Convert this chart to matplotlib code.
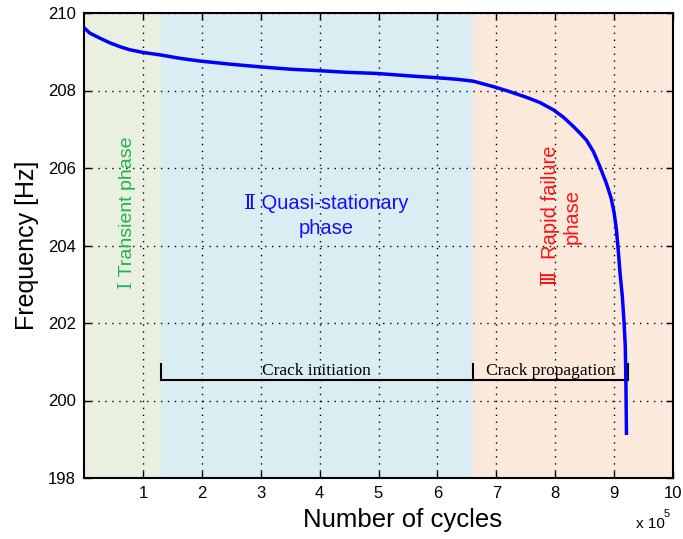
import matplotlib
matplotlib.use("Agg")
import matplotlib.pyplot as plt

# Data (cycles in units of 1e5)
cycles = [0.0, 0.10, 0.27, 0.44, 0.61, 0.78, 1.01, 1.29, 1.63, 1.97, 2.48,
          2.99, 3.50, 4.01, 4.46, 4.97, 5.59, 5.99, 6.33, 6.61, 6.95, 7.23,
          7.52, 7.74, 7.97, 8.14, 8.31, 8.42, 8.53, 8.65, 8.76, 8.87, 8.95,
          9.00, 9.04, 9.07, 9.10, 9.14, 9.17, 9.19, 9.20, 9.21]
freq = [209.62, 209.48, 209.35, 209.23, 209.13, 209.05, 208.98, 208.92,
        208.83, 208.76, 208.68, 208.61, 208.55, 208.51, 208.47, 208.44,
        208.37, 208.33, 208.29, 208.24, 208.10, 207.97, 207.82, 207.69,
        207.50, 207.31, 207.07, 206.90, 206.72, 206.42, 206.03, 205.60,
        205.22, 204.85, 204.40, 203.88, 203.30, 202.68, 201.99, 201.39,
        200.53, 199.11]

phase_bounds = [0.0, 1.3, 6.6, 10.0]
phase_colors = ["#E9F0DF", "#DAEDF2", "#FBE9DC"]
bracket_x = [1.3, 6.6, 9.24]
bracket_y = 200.53
bracket_tick = 0.41
xticks = [1, 2, 3, 4, 5, 6, 7, 8, 9, 10]
yticks = [198, 200, 202, 204, 206, 208, 210]

plt.rcParams['font.family'] = ['Liberation Sans', 'DejaVu Sans']

fig = plt.figure(figsize=(6.83, 5.39), dpi=100)
ax = fig.add_axes([84/683, 1-478/539, (673-84)/683, (478-13)/539])

for i in range(3):
    ax.axvspan(phase_bounds[i], phase_bounds[i+1], color=phase_colors[i], lw=0, zorder=0)

ax.set_xlim(0, 10)
ax.set_ylim(198, 210)
ax.set_xticks(xticks)
ax.set_yticks(yticks)
ax.tick_params(direction='in', top=True, right=True, length=5, width=1,
               labelsize=12, pad=6)
ax.grid(True, color='black', linestyle=(0, (1, 4)), linewidth=1, zorder=1)
for s in ax.spines.values():
    s.set_linewidth(1.5)

ax.plot(cycles, freq, color='#0000FF', lw=2.5, zorder=5,
        solid_joinstyle='round', solid_capstyle='butt')

# bracket
ax.plot([bracket_x[0], bracket_x[2]], [bracket_y, bracket_y], color='black', lw=1.5, zorder=4)
for bx in bracket_x:
    ax.plot([bx, bx], [bracket_y, bracket_y + bracket_tick], color='black', lw=1.5, zorder=4)
ax.text((bracket_x[0] + bracket_x[1]) / 2, 200.75, "Crack initiation",
        family='Liberation Serif', fontsize=12.5, ha='center', va='center', zorder=6)
ax.text((bracket_x[1] + bracket_x[2]) / 2, 200.75, "Crack propagation",
        family='Liberation Serif', fontsize=12.5, ha='center', va='center', zorder=6)

# phase labels
ax.text(0.73, 204.84, "Ⅰ Transient phase", rotation=90, color='#22B14C',
        fontsize=14, ha='center', va='center', family=['Liberation Sans', 'DejaVu Serif'])
ax.text(4.11, 204.76, "Ⅱ Quasi-stationary\nphase", color='#1010FF',
        fontsize=14.5, ha='center', va='center', multialignment='center',
        linespacing=1.35, family=['Liberation Sans', 'DejaVu Serif'])
ax.text(8.1, 204.76, "Ⅲ  Rapid failure\nphase", rotation=90, color='#FF1010',
        fontsize=14.5, ha='center', va='center', multialignment='center',
        linespacing=1.2, family=['Liberation Sans', 'DejaVu Serif'])

ax.set_ylabel("Frequency [Hz]", fontsize=18, labelpad=6)
fig.text(403/683, 1-520/539, "Number of cycles", fontsize=18.5, ha='center', va='center')
fig.text(636/683, 1-524/539, "x 10", fontsize=11, ha='left', va='center')
fig.text(664/683, 1-514/539, "5", fontsize=8, ha='left', va='center')

fig.savefig("out.png", dpi=100)
